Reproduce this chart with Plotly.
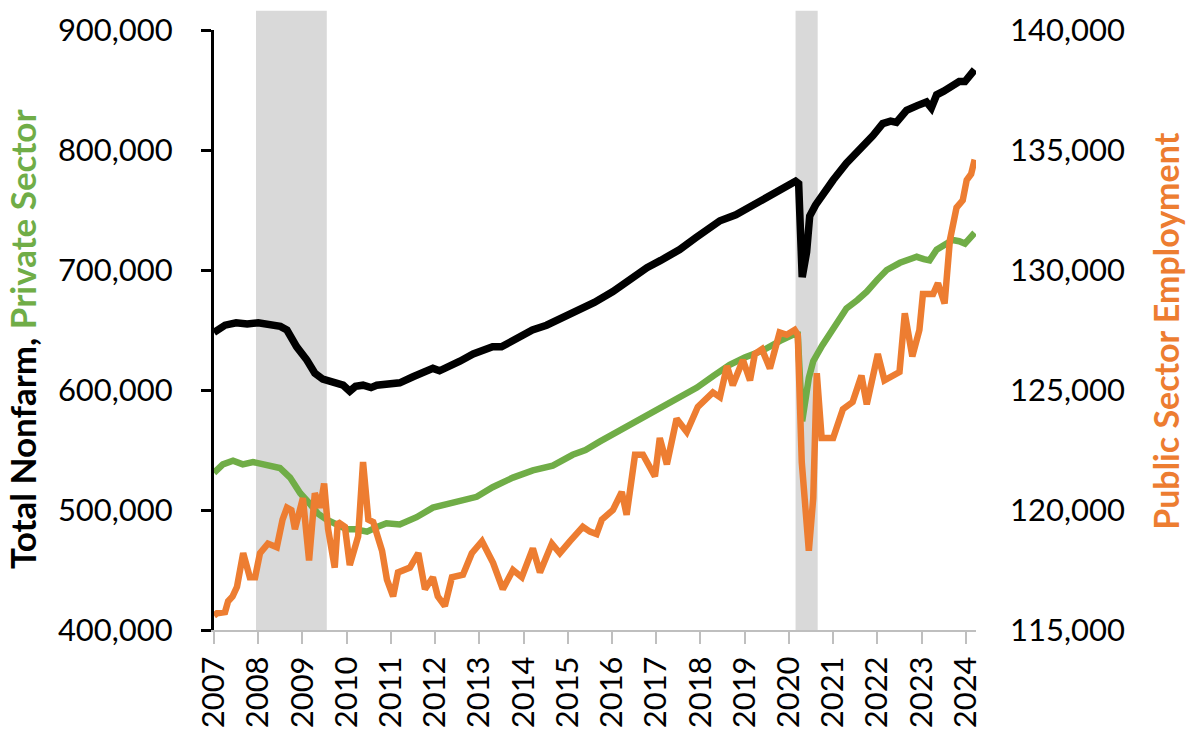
import plotly.graph_objects as go

# Monthly-ish readings, x in decimal years
total_t = [2007.0, 2007.25, 2007.5, 2007.75, 2008.0, 2008.25, 2008.5, 2008.65, 2008.87, 2009.1,
           2009.28, 2009.46, 2009.69, 2009.92, 2010.07, 2010.2, 2010.37, 2010.55, 2010.68, 2010.98,
           2011.2, 2011.5, 2011.75, 2011.95, 2012.1, 2012.3, 2012.56, 2012.86, 2013.1, 2013.3,
           2013.5, 2013.69, 2013.92, 2014.2, 2014.52, 2014.75, 2015.0, 2015.27, 2015.6, 2016.02,
           2016.4, 2016.79, 2017.1, 2017.53, 2017.9, 2018.2, 2018.44, 2018.8, 2019.18, 2019.5,
           2019.79, 2020.0, 2020.15, 2020.22, 2020.3, 2020.4, 2020.47, 2020.6, 2020.77, 2021.0,
           2021.3, 2021.5, 2021.67, 2021.9, 2022.12, 2022.3, 2022.43, 2022.66, 2022.9, 2023.11,
           2023.22, 2023.34, 2023.5, 2023.7, 2023.85, 2023.98, 2024.2]
total_nonfarm = [648000, 654000, 656000, 655000, 656000, 655000, 653000, 650000, 636000, 625000,
                 614000, 609000, 606000, 604000, 599000, 603000, 604000, 602000, 604000, 605000,
                 606000, 611000, 614000, 618000, 616000, 619000, 624000, 630000, 633000, 636000,
                 636000, 640000, 645000, 650000, 654000, 658000, 663000, 667000, 673000, 682000,
                 692000, 702000, 708000, 717000, 727000, 735000, 741000, 746000, 754000, 761000,
                 768000, 772000, 774000, 772000, 694000, 715000, 745000, 754000, 764000, 775000,
                 789000, 796000, 803000, 812000, 822000, 824000, 823000, 833000, 837000, 840000,
                 835000, 846000, 849000, 854000, 857000, 857000, 867000]

private_t = [2007.0, 2007.2, 2007.43, 2007.65, 2007.88, 2008.2, 2008.49, 2008.72, 2008.95, 2009.17,
             2009.35, 2009.55, 2009.8, 2010.0, 2010.2, 2010.46, 2010.7, 2010.9, 2011.2, 2011.58,
             2011.95, 2012.4, 2012.94, 2013.3, 2013.76, 2014.21, 2014.66, 2015.11, 2015.4, 2015.72,
             2016.25, 2016.7, 2017.15, 2017.5, 2017.92, 2018.3, 2018.66, 2019.0, 2019.41, 2019.8,
             2020.09, 2020.2, 2020.3, 2020.45, 2020.55, 2020.75, 2021.0, 2021.3, 2021.55, 2021.76,
             2022.0, 2022.21, 2022.51, 2022.89, 2023.05, 2023.18, 2023.34, 2023.5, 2023.7, 2023.85,
             2023.98, 2024.2]
private_sector = [531000, 538000, 541000, 538000, 540000, 537000, 535000, 527000, 514000, 505000,
                  497000, 492000, 487000, 484000, 484000, 482000, 486000, 489000, 488000, 494000,
                  502000, 506000, 511000, 519000, 527000, 533000, 537000, 546000, 550000, 557000,
                  568000, 578000, 587000, 594000, 602000, 612000, 621000, 627000, 633000, 641000,
                  646000, 646000, 574000, 610000, 624000, 637000, 652000, 668000, 675000, 682000,
                  692000, 700000, 706000, 711000, 709000, 708000, 717000, 720000, 725000, 724000,
                  722000, 731000]

public_t = [2007.0, 2007.07, 2007.25, 2007.32, 2007.42, 2007.52, 2007.66, 2007.81, 2007.93, 2008.04,
            2008.22, 2008.42, 2008.55, 2008.65, 2008.75, 2008.83, 2009.01, 2009.15, 2009.28, 2009.4,
            2009.49, 2009.58, 2009.73, 2009.8, 2009.96, 2010.07, 2010.26, 2010.37, 2010.49, 2010.6,
            2010.8, 2010.91, 2011.05, 2011.16, 2011.43, 2011.62, 2011.77, 2011.95, 2012.06, 2012.22,
            2012.38, 2012.63, 2012.83, 2013.06, 2013.31, 2013.53, 2013.76, 2013.96, 2014.21, 2014.37,
            2014.64, 2014.82, 2015.05, 2015.34, 2015.5, 2015.65, 2015.77, 2016.02, 2016.22, 2016.33,
            2016.52, 2016.7, 2016.97, 2017.08, 2017.24, 2017.46, 2017.69, 2017.94, 2018.28, 2018.44,
            2018.6, 2018.73, 2018.96, 2019.12, 2019.23, 2019.39, 2019.57, 2019.79, 2019.95, 2020.13,
            2020.2, 2020.29, 2020.45, 2020.55, 2020.63, 2020.74, 2021.0, 2021.1, 2021.22, 2021.44,
            2021.64, 2021.76, 2022.01, 2022.16, 2022.5, 2022.62, 2022.73, 2022.79, 2022.95, 2023.03,
            2023.26, 2023.37, 2023.52, 2023.64, 2023.79, 2023.93, 2024.02, 2024.12, 2024.2]
public_sector = [115600, 115700, 115750, 116200, 116400, 116800, 118200, 117200, 117200, 118200,
                 118600, 118450, 119600, 120100, 120000, 119200, 120500, 117900, 120700, 120100,
                 121100, 119200, 117600, 119500, 119300, 117700, 118900, 122000, 119600, 119500,
                 118300, 117100, 116400, 117400, 117600, 118200, 116700, 117200, 116400, 116000,
                 117200, 117300, 118200, 118700, 117800, 116700, 117500, 117200, 118400, 117400,
                 118600, 118200, 118700, 119300, 119100, 119000, 119600, 120000, 120750, 119800,
                 122300, 122300, 121400, 123000, 121900, 123800, 123250, 124300, 124900, 124700,
                 126000, 125200, 126250, 125400, 126500, 126700, 125900, 127400, 127300, 127500,
                 127300, 122000, 118300, 120500, 125700, 123000, 123000, 123500, 124200, 124500,
                 125600, 124400, 126500, 125400, 125750, 128200, 127000, 126400, 127500, 129000,
                 129000, 129450, 128600, 131250, 132600, 132900, 133750, 134000, 134600]

# Recession periods (decimal years)
recession_start = [2007.95, 2020.15]
recession_end = [2009.55, 2020.65]

years = list(range(2007, 2025))
left_ticks = [400000, 500000, 600000, 700000, 800000, 900000]
right_ticks = [115000, 120000, 125000, 130000, 135000, 140000]

BLACK = "#000000"
GREEN = "#70AD47"
ORANGE = "#ED7D31"
FONT = "Lato"

fig = go.Figure()
fig.add_trace(go.Scatter(x=total_t, y=total_nonfarm, mode="lines", name="Total Nonfarm",
                         line=dict(color=BLACK, width=7.5)))
fig.add_trace(go.Scatter(x=private_t, y=private_sector, mode="lines", name="Private Sector",
                         line=dict(color=GREEN, width=6.5)))
fig.add_trace(go.Scatter(x=public_t, y=public_sector, mode="lines", name="Public Sector Employment",
                         line=dict(color=ORANGE, width=6.5), yaxis="y2"))

for s, e in zip(recession_start, recession_end):
    fig.add_shape(type="rect", xref="x", yref="paper", x0=s, x1=e, y0=0, y1=1.032,
                  fillcolor="#D9D9D9", line=dict(width=0), layer="below")

tick_font = dict(family=FONT, size=31, color="#000000")

fig.update_layout(
    width=1188, height=729,
    margin=dict(l=214, r=212, t=30, b=99),
    paper_bgcolor="white", plot_bgcolor="white",
    showlegend=False,
    xaxis=dict(range=[2007, 2024.23], tickvals=years, ticktext=[str(y) for y in years],
               tickangle=-90, tickfont=tick_font, showgrid=False, zeroline=False,
               showline=True, linecolor="#BFBFBF", linewidth=2, automargin=False,
               ticks="outside", ticklen=12, tickwidth=2, tickcolor="#BFBFBF"),
    yaxis=dict(range=[400000, 900000], tickvals=left_ticks,
               ticktext=[f"{v:,}" for v in left_ticks], tickfont=tick_font,
               showgrid=False, zeroline=False, showline=True, linecolor="#000000", linewidth=3,
               ticks="outside", ticklen=10, tickwidth=3, tickcolor="#000000",
               ticklabelstandoff=22, automargin=False),
    yaxis2=dict(range=[115000, 140000], tickvals=right_ticks,
                ticktext=[f"{v:,}" for v in right_ticks], tickfont=tick_font,
                overlaying="y", side="right", showgrid=False, zeroline=False, showline=False,
                ticks="", ticklabelstandoff=33, automargin=False),
)

fig.add_annotation(xref="paper", yref="paper", x=(22 - 214) / 762, y=0.485,
                   text="<b>Total Nonfarm, <span style='color:#70AD47'>Private Sector</span></b>",
                   textangle=-90, showarrow=False, xanchor="center", yanchor="middle",
                   font=dict(family=FONT, size=35, color="#000000"))
fig.add_annotation(xref="paper", yref="paper", x=(1166 - 214) / 762, y=0.497,
                   text="<b>Public Sector Employment</b>",
                   textangle=-90, showarrow=False, xanchor="center", yanchor="middle",
                   font=dict(family=FONT, size=34, color=ORANGE))

fig.write_html("out.html")
